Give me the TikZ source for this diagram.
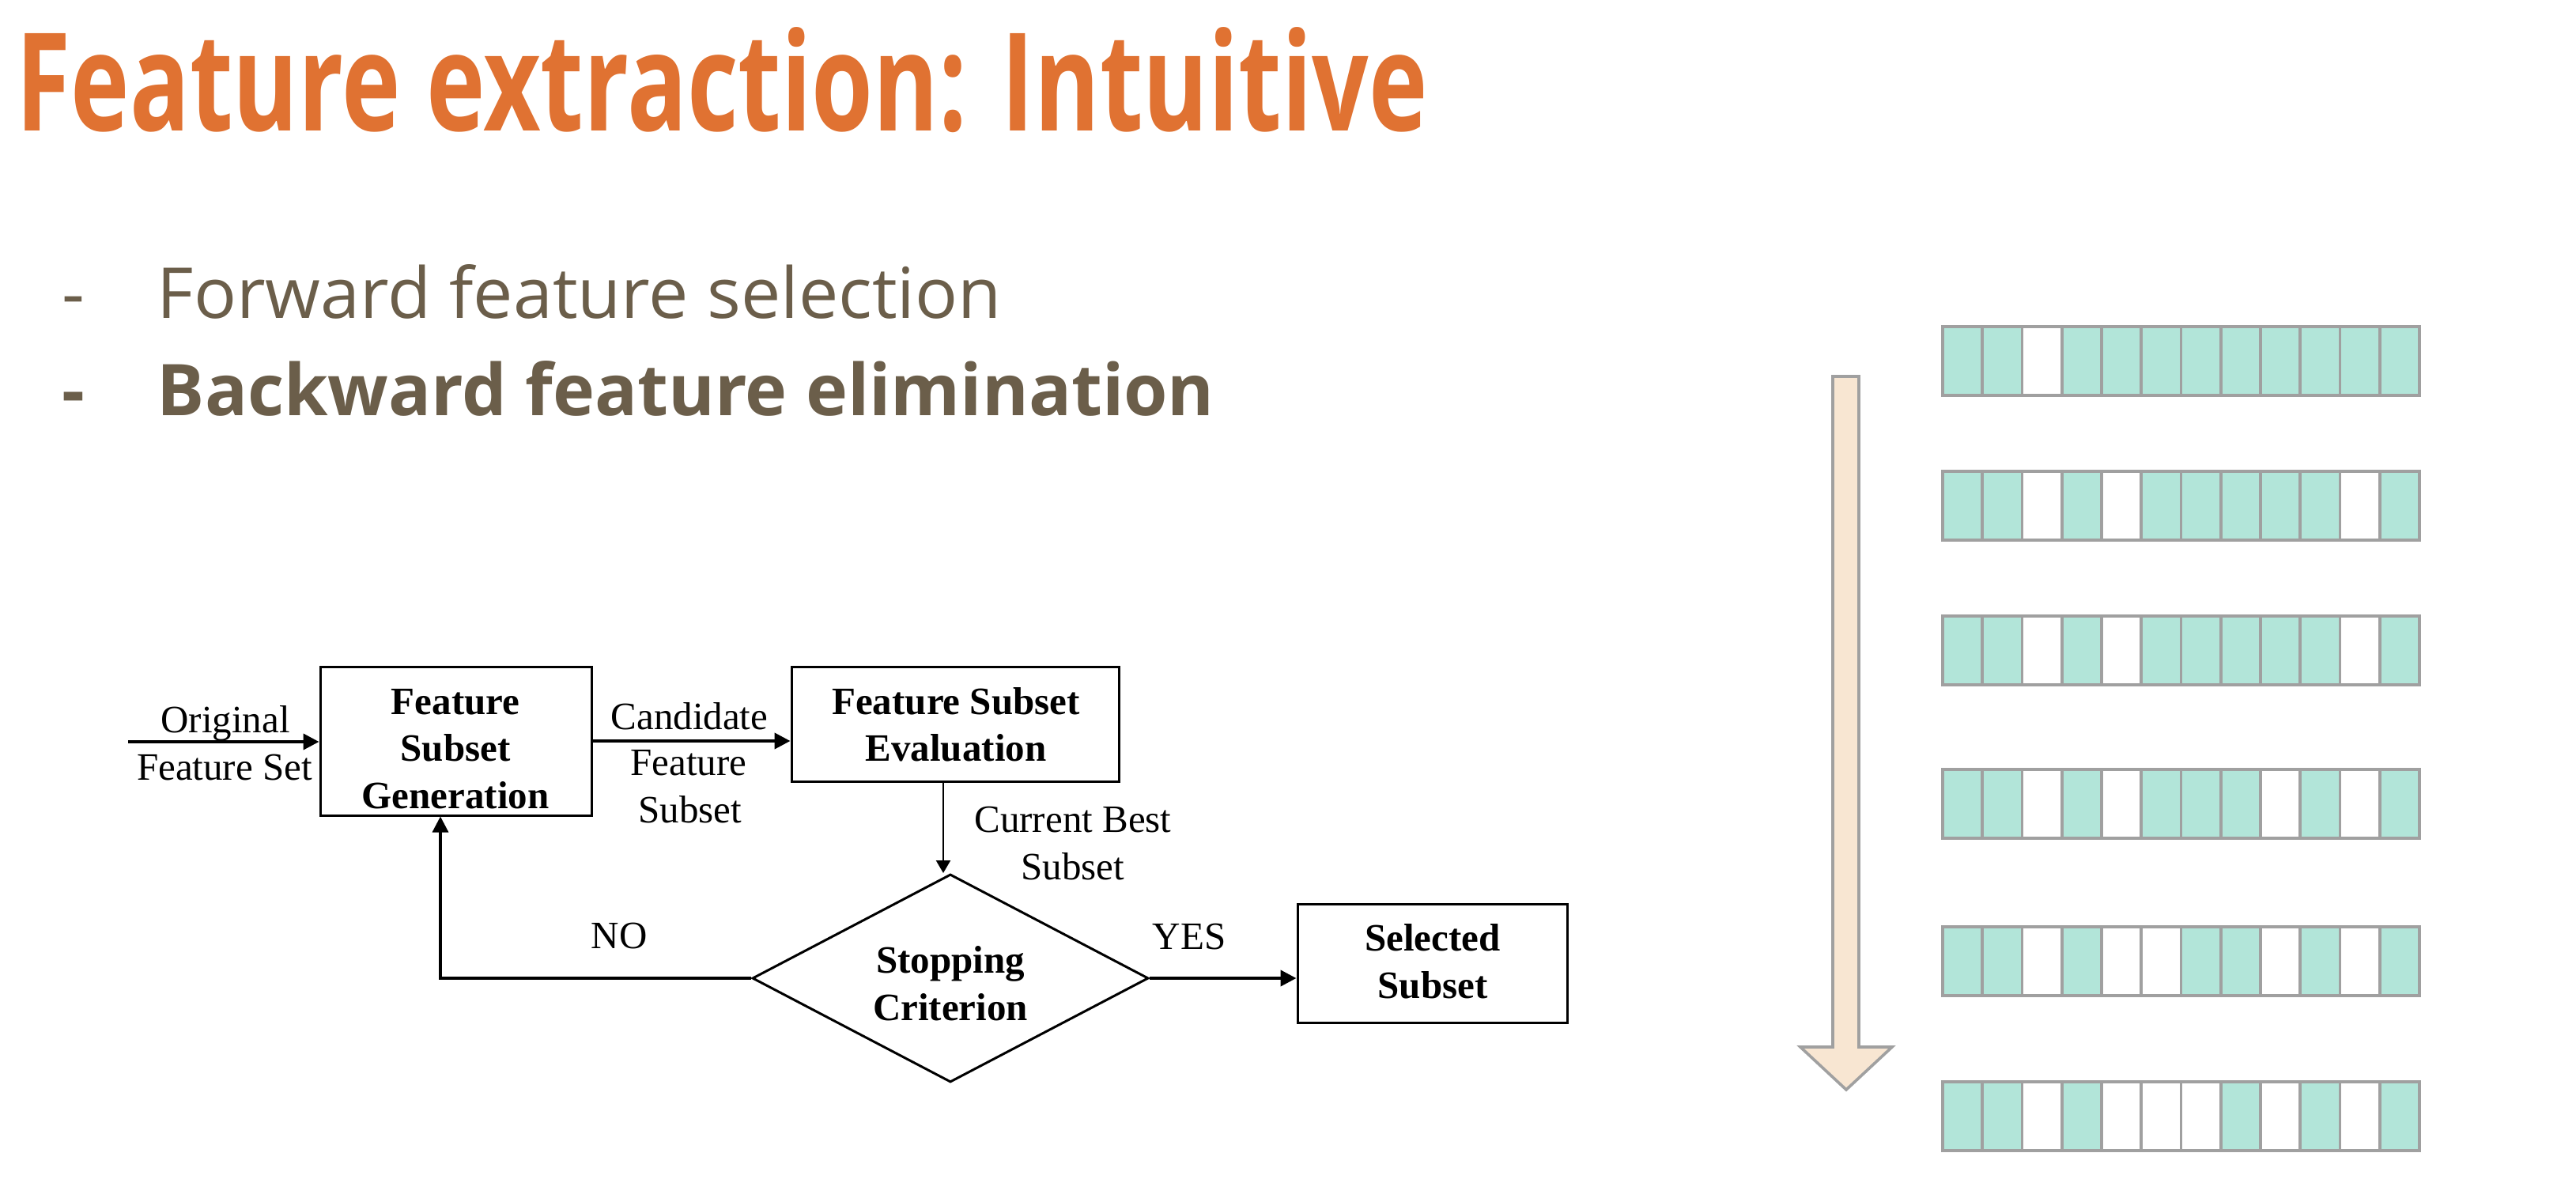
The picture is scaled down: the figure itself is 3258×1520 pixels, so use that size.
\documentclass[tikz,border=0pt]{standalone}
\usepackage{fontspec}
\usepackage{graphicx}
\setmainfont{Liberation Serif}
\newfontfamily\opensans{Open Sans}
\newfontfamily\tms{Liberation Serif}
\usetikzlibrary{arrows.meta,shapes.geometric}
\definecolor{titleorange}{RGB}{224,114,50}
\definecolor{bullettext}{RGB}{107,94,74}
\definecolor{cellteal}{RGB}{178,229,217}
\definecolor{cellgray}{RGB}{160,160,160}
\definecolor{peach}{RGB}{248,230,210}

\begin{document}
\begin{tikzpicture}[x=0.25pt,y=-0.25pt,
  flow/.style={draw=black,line width=0.75pt,inner sep=0pt},
  lbl/.style={font=\tms\fontsize{12.25pt}{14.7pt}\selectfont,anchor=base,inner sep=0pt},
  blbl/.style={font=\tms\bfseries\fontsize{12.25pt}{14.7pt}\selectfont,anchor=base,inner sep=0pt},
  arr/.style={-{Triangle[length=5pt,width=5pt]},line width=1pt},
  thinarr/.style={-{Triangle[length=4pt,width=4.5pt]},line width=0.6pt},
  cell/.style={draw=cellgray,line width=0.9pt},
  bullet/.style={anchor=base west,inner sep=0pt,text=bullettext}]

\useasboundingbox (0,0) rectangle (3258,1520);
\fill[white] (0,0) rectangle (3258,1520);

% heading and bullet list
\node[anchor=base west,inner sep=0pt,text=titleorange] (title) at (20,166)
  {\resizebox{446.25pt}{32.75pt}{\opensans\bfseries Feature extraction: Intuitive}};
\node[bullet] (dashA) at (78,402) {\opensans\fontsize{22.4pt}{26pt}\selectfont -};
\node[bullet] (fwd) at (198,402)
  {\resizebox{267pt}{17pt}{\opensans Forward feature selection}};
\node[bullet] (dashB) at (78,525) {\opensans\bfseries\fontsize{22.4pt}{26pt}\selectfont -};
\node[bullet] (bwd) at (198,525)
  {\resizebox{334.25pt}{17.25pt}{\opensans\bfseries Backward feature elimination}};

% flowchart blocks
\node[flow,rectangle,minimum width=85.75pt,minimum height=47pt] (gen) at (576.5,937) {};
\node[flow,rectangle,minimum width=103.5pt,minimum height=36.25pt] (eval) at (1208,915.5) {};
\node[flow,diamond,minimum width=125.25pt,minimum height=65.75pt] (stop) at (1202,1237) {};
\node[flow,rectangle,minimum width=85.25pt,minimum height=37.5pt] (sel) at (1811.5,1218) {};

% block texts
\node[blbl] (genA) at (576,903) {Feature};
\node[blbl] (genB) at (576,962) {Subset};
\node[blbl] (genC) at (576,1022) {Generation};
\node[blbl] (evalA) at (1209,903) {Feature Subset};
\node[blbl] (evalB) at (1209,962) {Evaluation};
\node[blbl] (stopA) at (1202,1230) {Stopping};
\node[blbl] (stopB) at (1202,1290) {Criterion};
\node[blbl] (selA) at (1812,1202) {Selected};
\node[blbl] (selB) at (1812,1262) {Subset};

% connectors
\coordinate (src) at (162,938);
\draw[arr] (src) -- (src -| gen.west);
\draw[arr] (gen.east) -- (gen.east -| eval.west);
\draw[thinarr] ([xshift=-2.25pt]eval.south -| stop.north) -- ([xshift=-2.25pt]stop.north);
\draw[arr] (stop.east) -- (stop.east -| sel.west);
\draw[arr,line width=0.8pt] (stop.west) -| ([xshift=-4.875pt]gen.south);

% connector labels
\node[lbl] (origA) at (285,926) {Original};
\node[lbl] (origB) at (284,986) {Feature Set};
\node[lbl] (candA) at (872,922) {Candidate};
\node[lbl] (candB) at (871,980) {Feature};
\node[lbl] (candC) at (873,1040) {Subset};
\node[lbl] (bestA) at (1357,1052) {Current Best};
\node[lbl] (bestB) at (1357,1112) {Subset};
\node[lbl] (no) at (783,1199) {NO};
\node[lbl] (yes) at (1504,1200) {YES};

% downward progress arrow
\draw[draw=cellgray,fill=peach,line width=0.9pt,line join=miter]
  (2318,476) -- (2351,476) -- (2351,1324) -- (2393,1324) -- (2335,1378)
  -- (2277,1324) -- (2318,1324) -- cycle;

% feature masks, one row per elimination step
\foreach \ty/\pat in {413/{1,1,0,1,1,1,1,1,1,1,1,1},
                      596/{1,1,0,1,0,1,1,1,1,1,0,1},
                      779/{1,1,0,1,0,1,1,1,1,1,0,1},
                      973/{1,1,0,1,0,1,1,1,0,1,0,1},
                      1172/{1,1,0,1,0,0,1,1,0,1,0,1},
                      1368/{1,1,0,1,0,0,0,1,0,1,0,1}}{
  \foreach \v [count=\c from 0] in \pat {
    \pgfmathsetmacro\cx{2457+50.25*\c}
    \def\fc{white}
    \ifnum\v=1 \def\fc{cellteal}\fi
    \filldraw[cell,fill=\fc] (\cx,\ty) rectangle ++(50.25,87);
  }
}
\end{tikzpicture}
\end{document}
